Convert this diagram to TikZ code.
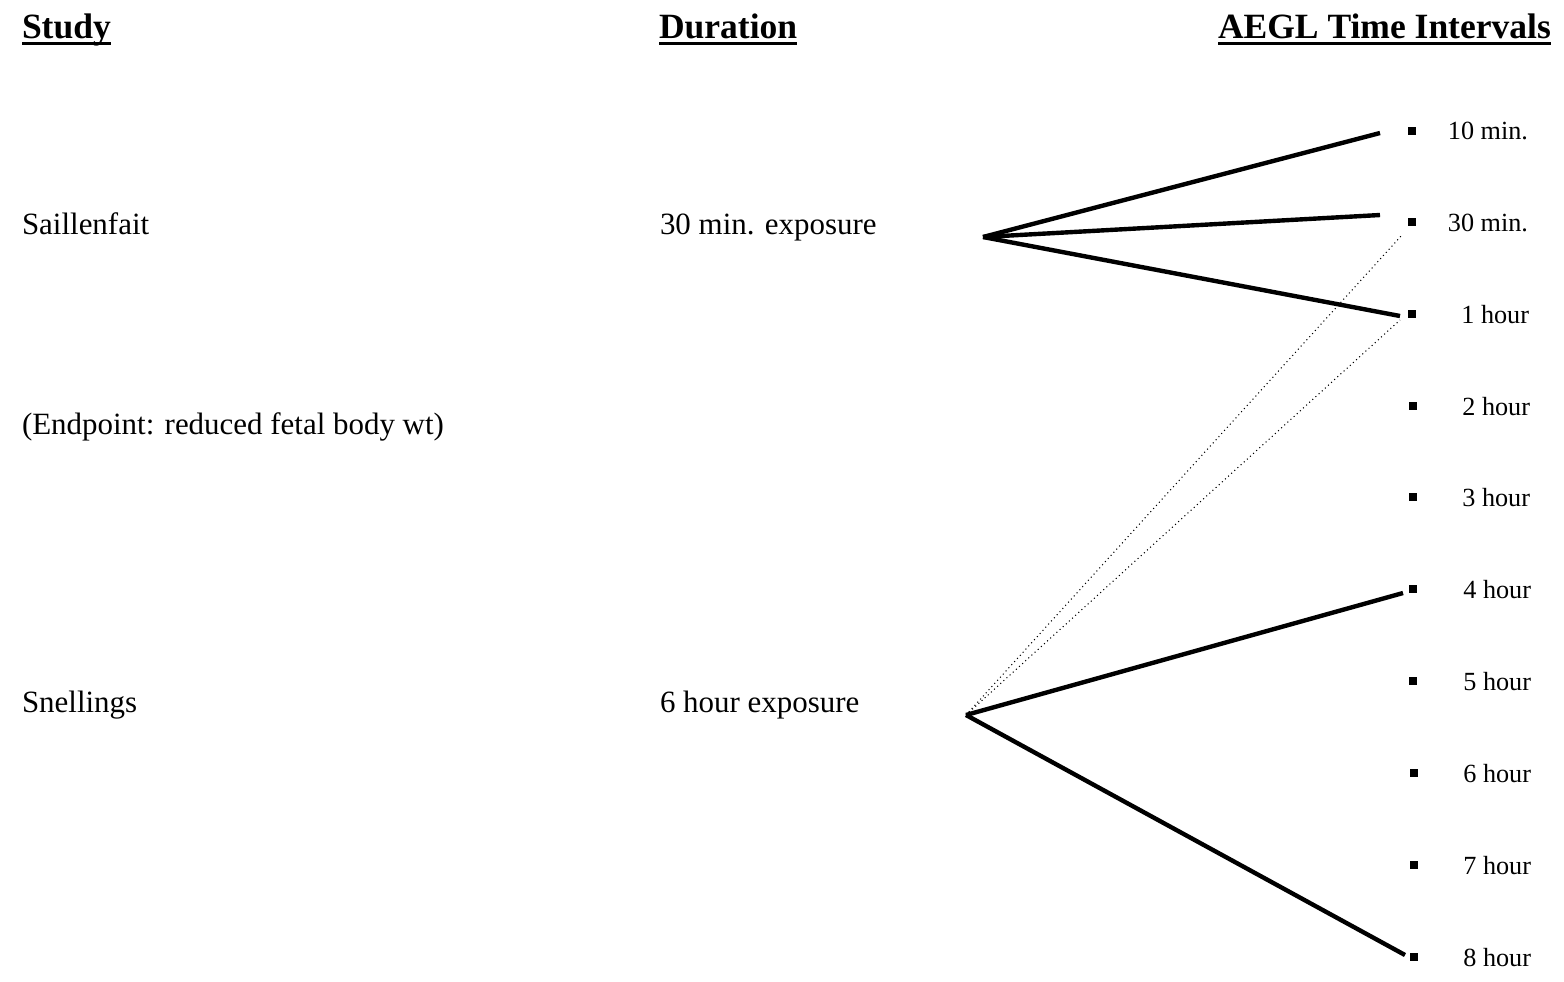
\documentclass[tikz,border=0pt]{standalone}
\usepackage{fontspec}
\setmainfont{Liberation Serif}
\usepackage{tikz}
\usetikzlibrary{positioning}

% thick underline for the column heads
\newcommand{\headul}[1]{\setbox0\hbox{#1}\rlap{\rule[-2.1pt]{\wd0}{0.85pt}}\box0}

\begin{document}
\begin{tikzpicture}[
  x=0.01cm, y=-0.01cm,
  every node/.style={inner sep=0pt, outer sep=0pt},
  head/.style={anchor=base west, font=\fontsize{10.1pt}{12pt}\selectfont\bfseries},
  txt/.style={anchor=base west, font=\fontsize{8.8pt}{10.5pt}\selectfont},
  tick/.style={draw=none, fill=black, rectangle, minimum size=0.075cm},
  tlabel/.style={anchor=base east, font=\fontsize{7.45pt}{9pt}\selectfont},
  fan/.style={line width=1.25pt},
  cross/.style={line width=0.3pt, dash pattern=on 0.3pt off 0.9pt}
]
\useasboundingbox (0,0) rectangle (1564,981);

% column heads
\node[head] (hstudy) at (22,38) {\headul{Study}};
\node[head] (hdur) at (659,38) {\headul{Duration}};
\node[head] (haegl) at (1218,38) {\headul{AEGL Time Intervals}};

% studies
\node[txt] (sail) at (22,234) {Saillenfait};
\node[txt] (endp) at (22,434) {(Endpoint: reduced fetal body wt)};
\node[txt] (snel) at (22,712) {Snellings};
\node[txt] (dsail) at (660,234) {30 min. exposure};
\node[txt] (dsnel) at (660,712) {6 hour exposure};

% time intervals
\node[tick] (m10) at (1412,131) {};
\node[tlabel] (m10l) at (1528,139) {10 min.};
\node[tick] (m30) at (1412,222) {};
\node[tlabel] (m30l) at (1528,231) {30 min.};
\node[tick] (h1) at (1412,314) {};
\node[tlabel] (h1l) at (1529,323) {1 hour};
\node[tick] (h2) at (1413,406) {};
\node[tlabel] (h2l) at (1530,415) {2 hour};
\node[tick] (h3) at (1413,497) {};
\node[tlabel] (h3l) at (1530,506) {3 hour};
\node[tick] (h4) at (1413,589) {};
\node[tlabel] (h4l) at (1531,598) {4 hour};
\node[tick] (h5) at (1413,681) {};
\node[tlabel] (h5l) at (1531,690) {5 hour};
\node[tick] (h6) at (1414,773) {};
\node[tlabel] (h6l) at (1531,782) {6 hour};
\node[tick] (h7) at (1414,865) {};
\node[tlabel] (h7l) at (1531,874) {7 hour};
\node[tick] (h8) at (1414,957) {};
\node[tlabel] (h8l) at (1531,966) {8 hour};

% forks
\coordinate (sfork) at (983,237);
\coordinate (snfork) at (966,715);

\draw[cross] (snfork) -- ([shift={(-10,13)}]m30.center);
\draw[cross] (snfork) -- ([shift={(-12,6)}]h1.center);

\draw[fan] (sfork) -- ([shift={(-32,2)}]m10.center);
\draw[fan] (sfork) -- ([shift={(-32,-7)}]m30.center);
\draw[fan] (sfork) -- ([shift={(-12,2)}]h1.center);
\draw[fan] (snfork) -- ([shift={(-10,4)}]h4.center);
\draw[fan] (snfork) -- ([shift={(-9,-2)}]h8.center);
\end{tikzpicture}
\end{document}
